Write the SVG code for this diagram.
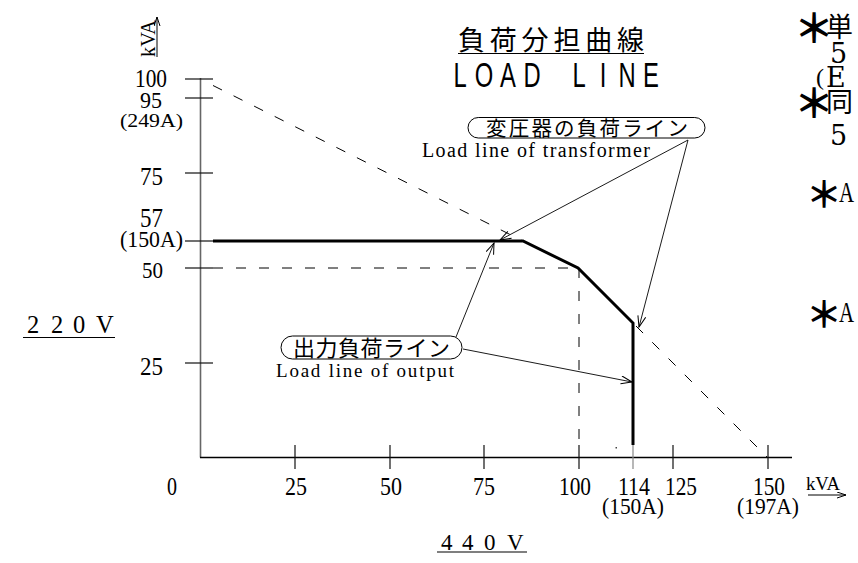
<svg xmlns="http://www.w3.org/2000/svg" width="858" height="563" viewBox="0 0 858 563">
<style>
  .num{font-family:"Liberation Serif",serif;fill:#000;text-anchor:middle;}
  .tick{stroke:#111;stroke-width:1.2;}
  .dash{stroke:#000;stroke-width:1;stroke-dasharray:10 13;fill:none;}
  .bold{stroke:#000;stroke-width:3;fill:none;stroke-linejoin:miter;}
  .jp{font-family:"Noto Sans CJK JP",sans-serif;fill:#000;}
  .ast{font-family:"Noto Sans CJK JP",sans-serif;fill:#000;font-weight:bold;text-anchor:middle;}
  .en{font-family:"Liberation Serif",serif;fill:#000;}
  .ser{font-family:"DejaVu Serif",serif;fill:#000;}
  .lead{stroke:#000;stroke-width:0.9;fill:none;marker-end:url(#arr);}
  .pill{fill:#fff;stroke:#000;stroke-width:1;}
  .ul{stroke:#000;stroke-width:1.2;}
</style>
<defs>
  <marker id="arr" markerUnits="userSpaceOnUse" markerWidth="14" markerHeight="10" refX="12" refY="4.5" orient="auto" viewBox="0 0 14 10">
    <path d="M1,0.5 L12,4.5 L1,8.5" fill="none" stroke="#000" stroke-width="1"/>
  </marker>
  <marker id="arrs" markerUnits="userSpaceOnUse" markerWidth="12" markerHeight="8" refX="10" refY="3" orient="auto" viewBox="0 0 12 8">
    <path d="M1,0 L10,3 L1,6" fill="none" stroke="#000" stroke-width="1"/>
  </marker>
</defs>
<rect width="858" height="563" fill="#fff"/>

<g id="title">
  <text class="jp" x="458" y="50" font-size="27" textLength="186" lengthAdjust="spacing">負荷分担曲線</text>
  <line class="ul" x1="458" y1="53.5" x2="644" y2="53.5"/>
  <text transform="scale(0.68,1)" font-family="'Liberation Sans',sans-serif" font-size="35" text-anchor="middle" y="87" x="676.5 711.8 747.1 782.4 817.6 851.5 886.8 922.1 957.4">LOAD LINE</text>
</g>

<g id="axes">
  <line x1="200.5" y1="78" x2="200.5" y2="457.5" stroke="#666" stroke-width="1.6"/>
  <line x1="200" y1="457.5" x2="792" y2="457.5" stroke="#000" stroke-width="1.3"/>
  <g class="tick">
    <line x1="185" y1="79" x2="213" y2="79"/>
    <line x1="185" y1="98" x2="213" y2="98"/>
    <line x1="185" y1="173" x2="213" y2="173"/>
    <line x1="185" y1="241" x2="213" y2="241"/>
    <line x1="185" y1="268" x2="213" y2="268"/>
    <line x1="185" y1="363" x2="213" y2="363"/>
    <line x1="295" y1="445" x2="295" y2="469"/>
    <line x1="390" y1="445" x2="390" y2="469"/>
    <line x1="484" y1="445" x2="484" y2="469"/>
    <line x1="579" y1="445" x2="579" y2="469"/>
    <line x1="633" y1="445" x2="633" y2="469" stroke="#888"/>
    <line x1="673" y1="445" x2="673" y2="469"/>
    <line x1="768" y1="445" x2="768" y2="469"/>
  </g>
  <rect x="615.5" y="447" width="1.5" height="1.5" fill="#444"/>
</g>

<g id="y-labels">
  <text class="en" transform="translate(155,57) rotate(-90)" font-size="22" textLength="37" lengthAdjust="spacingAndGlyphs">kVA</text>
  <line x1="157" y1="57" x2="157" y2="17" stroke="#000" stroke-width="1" marker-end="url(#arrs)"/>
  <text class="num" x="151" y="87" font-size="26" textLength="32" lengthAdjust="spacingAndGlyphs">100</text>
  <text class="num" x="151" y="108" font-size="24" textLength="22" lengthAdjust="spacingAndGlyphs">95</text>
  <text class="num" x="151.5" y="127" font-size="18" textLength="63" lengthAdjust="spacingAndGlyphs">(249A)</text>
  <text class="num" x="151.5" y="185" font-size="26" textLength="23" lengthAdjust="spacingAndGlyphs">75</text>
  <text class="num" x="151.5" y="227" font-size="27" textLength="23" lengthAdjust="spacingAndGlyphs">57</text>
  <text class="num" x="151.5" y="247" font-size="23" textLength="63" lengthAdjust="spacingAndGlyphs">(150A)</text>
  <text class="num" x="152.5" y="278" font-size="24" textLength="21" lengthAdjust="spacingAndGlyphs">50</text>
  <text class="num" x="151.5" y="375" font-size="26" textLength="23" lengthAdjust="spacingAndGlyphs">25</text>
</g>

<g id="x-labels">
  <text class="num" x="172" y="495" font-size="26" textLength="10" lengthAdjust="spacingAndGlyphs">0</text>
  <text class="num" x="296" y="495" font-size="26" textLength="22" lengthAdjust="spacingAndGlyphs">25</text>
  <text class="num" x="391" y="495" font-size="26" textLength="22" lengthAdjust="spacingAndGlyphs">50</text>
  <text class="num" x="484" y="495" font-size="26" textLength="22" lengthAdjust="spacingAndGlyphs">75</text>
  <text class="num" x="575" y="495" font-size="26" textLength="32" lengthAdjust="spacingAndGlyphs">100</text>
  <text class="num" x="634" y="495" font-size="26" textLength="32" lengthAdjust="spacingAndGlyphs">114</text>
  <text class="num" x="681" y="495" font-size="26" textLength="32" lengthAdjust="spacingAndGlyphs">125</text>
  <text class="num" x="769" y="495" font-size="26" textLength="32" lengthAdjust="spacingAndGlyphs">150</text>
  <text class="num" x="633" y="514" font-size="24" textLength="62" lengthAdjust="spacingAndGlyphs">(150A)</text>
  <text class="num" x="768" y="514" font-size="24" textLength="62" lengthAdjust="spacingAndGlyphs">(197A)</text>
  <text class="en" x="806" y="490" font-size="19.5" textLength="34" lengthAdjust="spacingAndGlyphs">kVA</text>
  <line x1="808" y1="495" x2="846" y2="495" stroke="#000" stroke-width="1" marker-end="url(#arrs)"/>
</g>

<g id="voltage-220">
  <text class="en" font-size="24.5" y="333" x="27 51 73 96">220V</text>
  <line class="ul" x1="23" y1="337.5" x2="115" y2="337.5"/>
</g>
<g id="voltage-440">
  <text class="en" font-size="23" y="550" x="441 462 484 507">440V</text>
  <line class="ul" x1="437" y1="552" x2="527" y2="552"/>
</g>

<g id="curves">
  <path class="dash" d="M213,85.5 L523,241"/>
  <path class="dash" d="M636,326 L767,457"/>
  <path class="dash" d="M213,268 L578,268"/>
  <path class="dash" d="M579,268 L579,447"/>
  <path class="bold" d="M213,241 L523,241 L578,268 L633,323 L633,445"/>
</g>

<g id="connectors">
  <path class="lead" d="M688,140 L500,240"/>
  <path class="lead" d="M688,140 L639,327"/>
  <path class="lead" d="M456,337 L494,243"/>
  <path class="lead" d="M463,349 L632,382"/>
</g>

<g id="node-transformer">
  <rect class="pill" x="468" y="117.5" width="237" height="20.5" rx="10.25"/>
  <text class="jp" x="486" y="135.5" font-size="20.5" textLength="202" lengthAdjust="spacing">変圧器の負荷ライン</text>
  <text class="en" x="422" y="157" font-size="20" textLength="228" lengthAdjust="spacing">Load line of transformer</text>
</g>

<g id="node-output">
  <rect class="pill" x="281" y="336" width="181" height="23" rx="11.5"/>
  <text class="jp" x="293" y="355.5" font-size="22" textLength="157" lengthAdjust="spacing">出力負荷ライン</text>
  <text class="en" x="276" y="377" font-size="19" textLength="178" lengthAdjust="spacing">Load line of output</text>
</g>

<g id="notes">
  <text class="ast" x="814" y="43" font-size="40">＊</text>
  <text class="jp" x="826" y="37" font-size="27">単</text>
  <text class="ser" x="830" y="63" font-size="27">5</text>
  <text class="en" x="816" y="85" font-size="24">(</text>
  <text class="ser" x="826" y="87" font-size="27">E</text>
  <text class="ast" x="814" y="118" font-size="40">＊</text>
  <text class="jp" x="826" y="112" font-size="27">同</text>
  <text class="ser" x="830" y="145" font-size="27">5</text>
  <text class="ast" x="824" y="208" font-size="36">＊</text>
  <text class="en" x="839" y="202" font-size="29" textLength="15" lengthAdjust="spacingAndGlyphs">A</text>
  <text class="ast" x="824" y="328" font-size="36">＊</text>
  <text class="en" x="839" y="322" font-size="29" textLength="15" lengthAdjust="spacingAndGlyphs">A</text>
</g>
</svg>
